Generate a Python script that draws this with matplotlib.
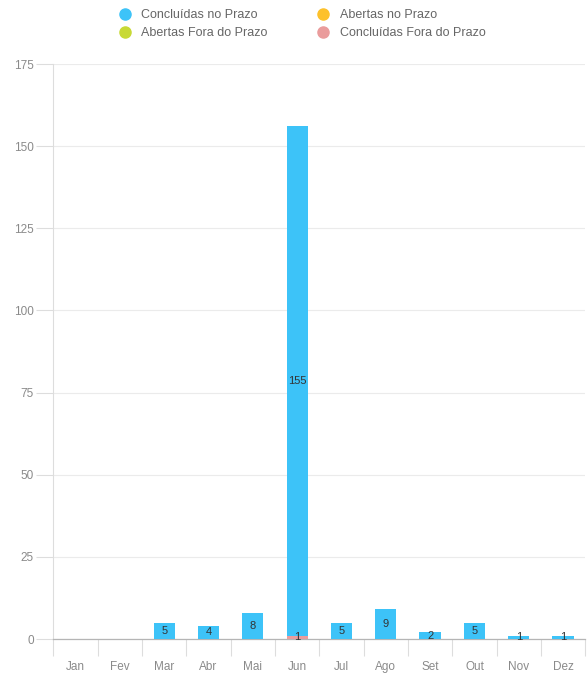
import numpy as np
import matplotlib.pyplot as plt
from matplotlib.lines import Line2D

plt.rcParams['font.family'] = ['Liberation Sans', 'DejaVu Sans']

months = ["Jan", "Fev", "Mar", "Abr", "Mai", "Jun", "Jul", "Ago", "Set", "Out", "Nov", "Dez"]
concluidas_prazo = [0, 0, 5, 4, 8, 155, 5, 9, 2, 5, 1, 1]
concluidas_fora = [0, 0, 0, 0, 0, 1, 0, 0, 0, 0, 0, 0]
abertas_prazo = [0, 0, 0, 0, 0, 0, 0, 0, 0, 0, 0, 0]
abertas_fora = [0, 0, 0, 0, 0, 0, 0, 0, 0, 0, 0, 0]

c_blue = "#3DC3F8"
c_yellow = "#FDC12B"
c_green = "#C8D935"
c_pink = "#EA9C9C"
grid_c = "#ebebeb"
text_c = "#8a8a8a"

fig = plt.figure(figsize=(5.87, 6.73), dpi=100)
ax = fig.add_axes([0.091, 0.0505, 0.906, 0.8544])

x = np.arange(len(months))
width = 0.48

# stacked: late-completed at the bottom, then on-time completed
bottom = np.zeros(len(months))
ax.bar(x, concluidas_fora, width, bottom=bottom, color=c_pink, zorder=3)
bottom += np.array(concluidas_fora)
ax.bar(x, concluidas_prazo, width, bottom=bottom, color=c_blue, zorder=3)

for i in range(len(months)):
    if concluidas_fora[i] > 0:
        ax.text(x[i], concluidas_fora[i] / 2, str(concluidas_fora[i]),
                ha="center", va="center", fontsize=8, color="#333333", zorder=4)
    if concluidas_prazo[i] > 0:
        ax.text(x[i], bottom[i] + concluidas_prazo[i] / 2, str(concluidas_prazo[i]),
                ha="center", va="center", fontsize=8, color="#333333", zorder=4)

ax.set_xlim(-0.5, len(months) - 0.5)
ax.set_ylim(0, 175)
ax.set_yticks(np.arange(0, 176, 25))
ax.yaxis.grid(True, color=grid_c, linewidth=0.8, zorder=0)
ax.set_axisbelow(True)

ax.set_xticks(x)
ax.set_xticklabels(months)
ax.set_xticks(np.arange(-0.5, len(months), 1), minor=True)
ax.tick_params(axis="x", which="major", length=0, pad=16, labelsize=8.5, labelcolor=text_c)
ax.tick_params(axis="x", which="minor", length=12, color="#dddddd", width=0.8)
ax.tick_params(axis="y", length=12, color="#dddddd", width=0.8, labelsize=8.5,
               labelcolor=text_c, pad=2)

for side in ["top", "right"]:
    ax.spines[side].set_visible(False)
ax.spines["left"].set_color("#dddddd")
ax.spines["left"].set_linewidth(0.8)
ax.spines["bottom"].set_color("#b5b5b5")
ax.spines["bottom"].set_linewidth(0.9)

handles = [
    Line2D([], [], marker="o", linestyle="", markersize=8, color=c_blue, label="Concluídas no Prazo"),
    Line2D([], [], marker="o", linestyle="", markersize=8, color=c_green, label="Abertas Fora do Prazo"),
    Line2D([], [], marker="o", linestyle="", markersize=8, color=c_yellow, label="Abertas no Prazo"),
    Line2D([], [], marker="o", linestyle="", markersize=8, color=c_pink, label="Concluídas Fora do Prazo"),
]
leg = fig.legend(handles=handles, ncol=2, loc="upper center", bbox_to_anchor=(0.509, 1.003),
                 frameon=False, fontsize=9, handletextpad=0.35, columnspacing=3.4,
                 labelspacing=0.5)
for t in leg.get_texts():
    t.set_color("#666666")

fig.savefig("out.png", dpi=100)
